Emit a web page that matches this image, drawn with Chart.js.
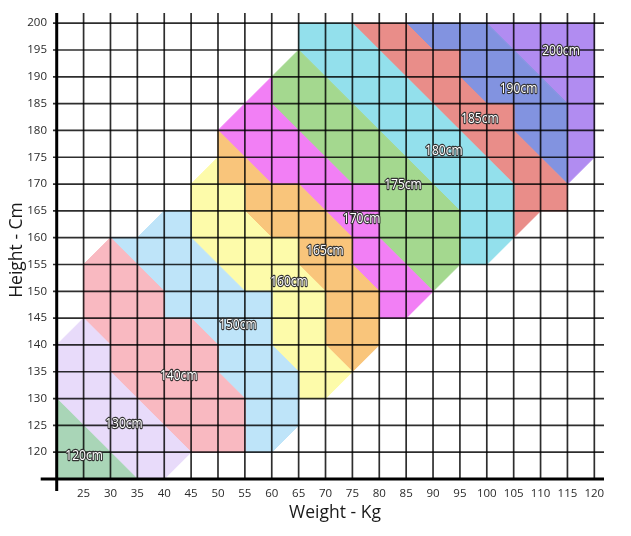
<!DOCTYPE html>
<html>
<head>
<meta charset="utf-8">
<script src="https://cdn.jsdelivr.net/npm/chart.js@4.4.0/dist/chart.umd.min.js"></script>
<style>
html,body{margin:0;padding:0;background:#ffffff;}
canvas{display:block;}
</style>
</head>
<body>
<canvas id="chart" width="631" height="536"></canvas>
<script>
// ---- tick values and labels ----
const xTicks = [20,25,30,35,40,45,50,55,60,65,70,75,80,85,90,95,100,105,110,115,120];
const xTickLabels = ['','25','30','35','40','45','50','55','60','65','70','75','80','85','90','95','100','105','110','115','120'];
const yTicks = [115,120,125,130,135,140,145,150,155,160,165,170,175,180,185,190,195,200];
const yTickLabels = ['','120','125','130','135','140','145','150','155','160','165','170','175','180','185','190','195','200'];

// ---- band names ----
const bandNames = ['120cm','130cm','140cm','150cm','160cm','165cm','170cm','175cm','180cm','185cm','190cm','200cm'];

// ---- band outlines: [weight kg, height cm] vertices ----
const band120 = [[20,115],[20,130],[35,115]];
const band130 = [[20,130],[20,140],[25,145],[30,140],[30,135],[45,120],[40,115],[35,115]];
const band140 = [[25,145],[25,155],[30,160],[40,150],[40,145],[45,145],[50,140],[50,135],[55,130],[55,120],[45,120],[30,135],[30,140]];
const band150 = [[30,160],[35,160],[40,165],[45,165],[45,160],[55,150],[60,150],[60,140],[65,135],[65,125],[60,120],[55,120],[55,130],[50,135],[50,140],[45,145],[40,145],[40,150]];
const band160 = [[45,160],[45,170],[50,175],[50,170],[55,170],[55,165],[60,160],[65,160],[65,155],[70,150],[70,140],[75,135],[70,130],[65,130],[65,135],[60,140],[60,150],[55,150]];
const band165 = [[50,170],[50,180],[60,170],[65,170],[75,160],[75,155],[80,150],[80,140],[75,135],[70,140],[70,150],[65,155],[65,160],[60,160],[55,165],[55,170]];
const band170 = [[50,180],[60,190],[60,185],[75,170],[80,170],[80,160],[90,150],[85,145],[80,145],[80,150],[75,155],[75,160],[65,170],[60,170]];
const band175 = [[60,185],[60,190],[65,195],[95,165],[95,155],[90,150],[80,160],[80,170],[75,170]];
const band180 = [[65,195],[65,200],[75,200],[105,170],[105,160],[100,155],[95,155],[95,165]];
const band185 = [[75,200],[85,200],[90,195],[95,195],[95,190],[100,185],[105,185],[105,180],[115,170],[115,165],[110,165],[105,160],[105,170]];
const band190 = [[85,200],[100,200],[115,185],[115,170],[105,180],[105,185],[100,185],[95,190],[95,195],[90,195]];
const band200 = [[100,200],[120,200],[120,175],[115,170],[115,185]];

// ---- label anchor points (kg, cm) ----
const labelX = [25.1, 32.5, 42.7, 53.7, 63.2, 69.9, 76.7, 84.4, 92.0, 98.7, 105.9, 113.8];
const labelY = [119.3, 125.2, 134.2, 143.8, 151.8, 157.6, 163.4, 169.9, 176.1, 182.2, 187.8, 194.9];

// ---- styles ----
const bandColors = ['#a9d5b7','#e8dbfa','#f9b9c1','#bee4f9','#fdfbaa','#f9c57b','#f27ff5','#a4d88f','#93e0ec','#e98d89','#8293e0','#b18cf1'];

const bands = [band120,band130,band140,band150,band160,band165,band170,band175,band180,band185,band190,band200];

const datasets = bands.map((pts, i) => ({
  type: 'line',
  label: bandNames[i],
  data: pts.concat([pts[0]]).map(p => ({x: p[0], y: p[1]})),
  fill: 'shape',
  backgroundColor: bandColors[i],
  borderColor: bandColors[i],
  borderWidth: 1,
  pointRadius: 0,
  pointHoverRadius: 0,
  tension: 0,
  showLine: true
}));

const overlayPlugin = {
  id: 'overlay',
  afterDatasetsDraw(chart) {
    const {ctx, chartArea: a} = chart;
    const xs = chart.scales.x, ys = chart.scales.y;
    const x0 = xs.getPixelForValue(xTicks[0]);
    const y0 = ys.getPixelForValue(yTicks[0]);
    const line = (ax, ay, bx, by) => { ctx.beginPath(); ctx.moveTo(ax, ay); ctx.lineTo(bx, by); ctx.stroke(); };
    ctx.save();
    ctx.strokeStyle = 'rgba(0,0,0,0.82)';
    ctx.lineWidth = 1.7;
    xTicks.forEach((v, i) => {
      if (i === 0) return;
      const px = xs.getPixelForValue(v);
      line(px, y0, px, a.top);
    });
    yTicks.forEach((v, i) => {
      if (i === 0) return;
      const py = ys.getPixelForValue(v);
      line(a.left, py, a.right, py);
    });
    ctx.strokeStyle = '#000000';
    ctx.lineWidth = 3;
    line(x0 - 16, y0, a.right, y0);
    line(x0, y0 + 12, x0, a.top);

    // band labels (slightly condensed, white with dark outline)
    ctx.font = '14px "Open Sans", sans-serif';
    ctx.textAlign = 'center';
    ctx.textBaseline = 'middle';
    ctx.lineJoin = 'round';
    bandNames.forEach((t, i) => {
      const px = xs.getPixelForValue(labelX[i]);
      const py = ys.getPixelForValue(labelY[i]);
      ctx.save();
      ctx.translate(px, py);
      ctx.scale(0.86, 1);
      ctx.lineWidth = 2.3;
      ctx.strokeStyle = '#333333';
      ctx.strokeText(t, 0, 0);
      ctx.fillStyle = '#ffffff';
      ctx.fillText(t, 0, 0);
      ctx.restore();
    });

    // axis titles
    ctx.fillStyle = '#1a1a1a';
    ctx.font = '17.5px "Open Sans"';
    ctx.textAlign = 'center';
    ctx.textBaseline = 'middle';
    ctx.fillText('Weight - Kg', 335, 513);
    ctx.save();
    ctx.translate(17, 250);
    ctx.rotate(-Math.PI / 2);
    ctx.fillText('Height - Cm', 0, 0);
    ctx.restore();
    ctx.restore();
  }
};

new Chart(document.getElementById('chart'), {
  type: 'scatter',
  data: { datasets },
  options: {
    responsive: false,
    animation: false,
    events: [],
    layout: { padding: { left: 0, right: 27, top: 12, bottom: 0 } },
    plugins: { legend: { display: false }, tooltip: { enabled: false }, title: { display: false } },
    scales: {
      x: {
        type: 'linear',
        min: 19.31,
        max: 121.8,
        grid: { display: false, drawTicks: false },
        border: { display: false },
        afterBuildTicks: s => { s.ticks = xTicks.map(v => ({value: v})); },
        afterFit: s => { s.height = 57; },
        ticks: {
          autoSkip: false,
          maxRotation: 0,
          padding: 8,
          color: '#2a2a2a',
          font: { family: '"Open Sans"', size: 11.5 },
          callback: (v, i) => xTickLabels[i]
        }
      },
      y: {
        type: 'linear',
        min: 115,
        max: 201.92,
        grid: { display: false, drawTicks: false },
        border: { display: false },
        afterBuildTicks: s => { s.ticks = yTicks.map(v => ({value: v})); },
        afterFit: s => { s.width = 53; },
        ticks: {
          autoSkip: false,
          padding: 6,
          color: '#2a2a2a',
          font: { family: '"Open Sans"', size: 11.5 },
          callback: (v, i) => yTickLabels[i]
        }
      }
    }
  },
  plugins: [overlayPlugin]
});
</script>
</body>
</html>
